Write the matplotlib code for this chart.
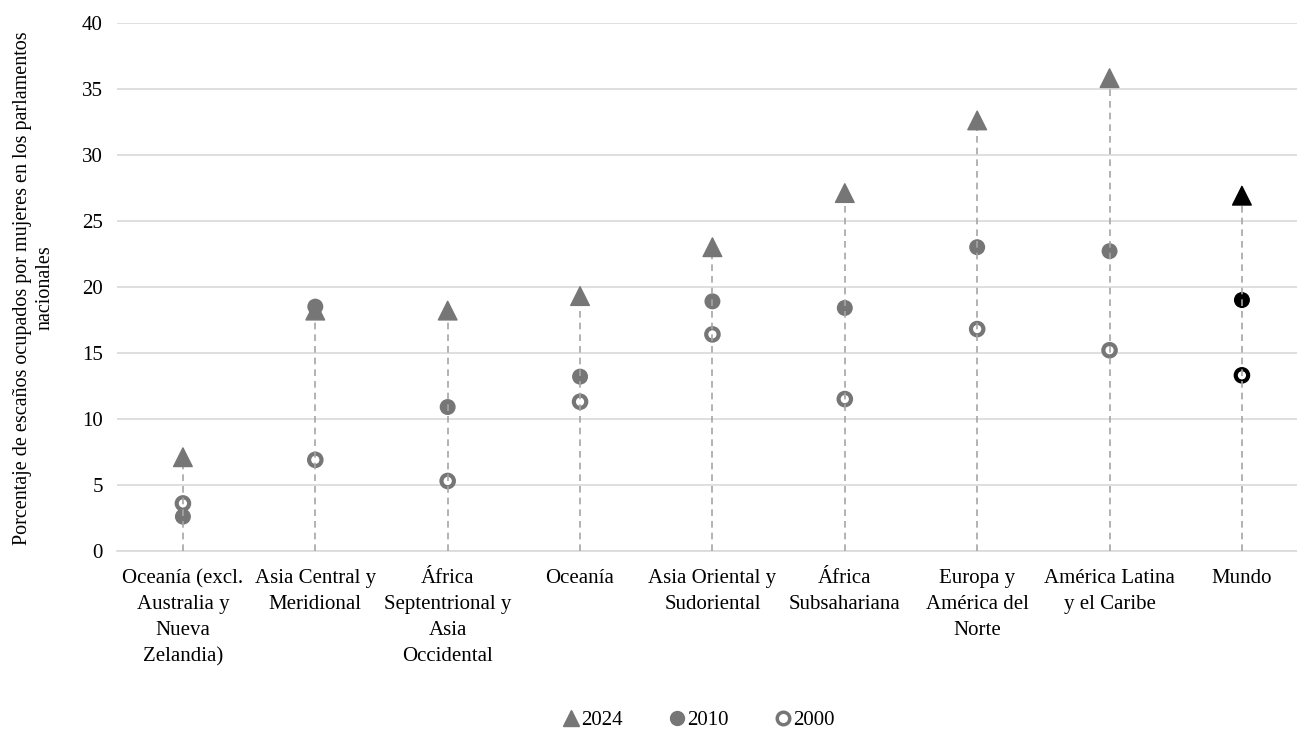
import numpy as np
import matplotlib.pyplot as plt
from matplotlib.lines import Line2D

plt.rcParams['font.family'] = ['Liberation Serif', 'DejaVu Serif']

categories = ["Oceanía (excl.\nAustralia y\nNueva\nZelandia)",
              "Asia Central y\nMeridional",
              "África\nSeptentrional y\nAsia\nOccidental",
              "Oceanía",
              "Asia Oriental y\nSudoriental",
              "África\nSubsahariana",
              "Europa y\nAmérica del\nNorte",
              "América Latina\ny el Caribe",
              "Mundo"]
v2024 = [7.1, 18.2, 18.2, 19.3, 23.0, 27.1, 32.6, 35.8, 26.9]
v2010 = [2.6, 18.5, 10.9, 13.2, 18.9, 18.4, 23.0, 22.7, 19.0]
v2000 = [3.6, 6.9, 5.3, 11.3, 16.4, 11.5, 16.8, 15.2, 13.3]

gray = '#767676'
colors = [gray] * 8 + ['black']
x = np.arange(len(categories))
fs = 15

fig = plt.figure(figsize=(12.97, 7.29), dpi=100)
ax = fig.add_axes([0.09, 0.2442, 0.91, 0.7247])

ax.vlines(x, 0, v2024, colors='#a6a6a6', linestyles=(0, (4, 3)), linewidth=1.2, zorder=3)
ax.scatter(x, v2010, s=110, marker='o', c=colors, zorder=2)
ax.scatter(x, v2000, s=80, marker='o', facecolors='white', edgecolors=colors, linewidths=3, zorder=2)
ax.scatter(x, v2024, s=180, marker='^', c=colors, zorder=4)

ax.set_ylim(0, 40)
ax.set_xlim(-0.5, 8.416)
ax.set_yticks(range(0, 41, 5))
ax.set_xticks(x)
ax.set_xticklabels(categories, fontsize=fs, linespacing=1.5)
ax.tick_params(axis='y', labelsize=fs, length=0, pad=10)
ax.tick_params(axis='x', length=0, pad=13)
ax.grid(axis='y', color='#d9d9d9', linewidth=1.2)
ax.set_axisbelow(True)
for s in ['top', 'right', 'left']:
    ax.spines[s].set_visible(False)
ax.spines['bottom'].set_color('#d9d9d9')
ax.spines['bottom'].set_linewidth(1.2)

fig.text(0.026, 0.605, "Porcentaje de escaños ocupados por mujeres en los parlamentos\nnacionales",
         rotation=90, ha='center', va='center', fontsize=14.5, multialignment='center',
         linespacing=1.2)

handles = [Line2D([], [], ls='', marker='^', color=gray, markersize=12),
           Line2D([], [], ls='', marker='o', color=gray, markersize=10),
           Line2D([], [], ls='', marker='o', markerfacecolor='white', markeredgecolor=gray,
                  markeredgewidth=2.5, markersize=9)]
fig.legend(handles, ['2024', '2010', '2000'], loc='center', bbox_to_anchor=(0.537, 0.012),
           ncol=3, frameon=False, fontsize=fs, handletextpad=-0.1, columnspacing=2.0,
           handlelength=1.2)

fig.savefig('out.png', dpi=100)
